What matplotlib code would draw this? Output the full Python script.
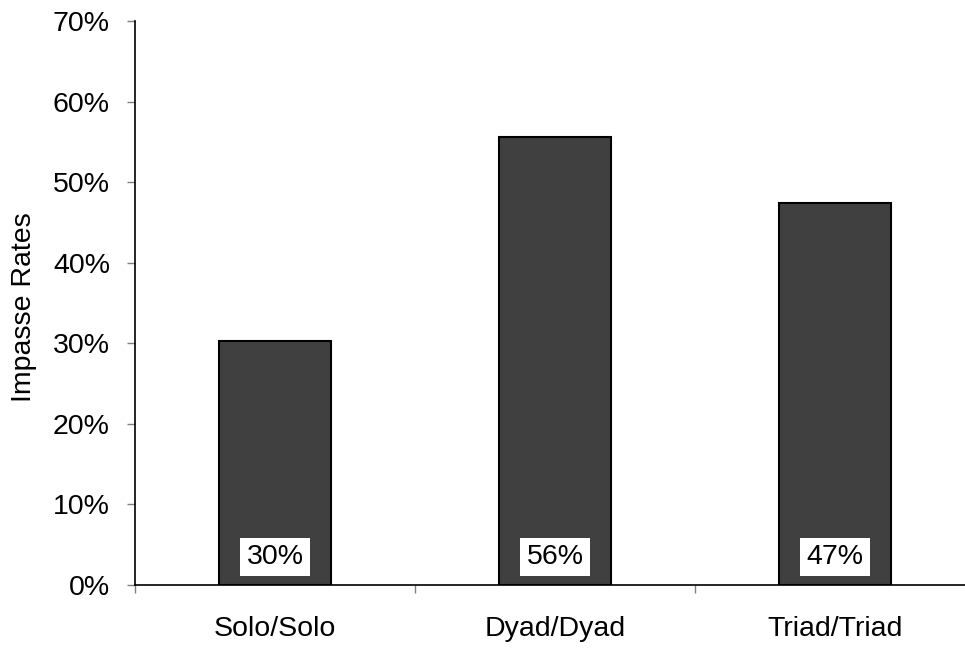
import matplotlib.pyplot as plt

plt.rcParams['font.family'] = ['Liberation Sans', 'DejaVu Sans']

# Impasse rates by group composition
groups = ['Solo/Solo', 'Dyad/Dyad', 'Triad/Triad']
rates = [30.3, 55.6, 47.4]
labels = ['30%', '56%', '47%']
yticks = [0, 10, 20, 30, 40, 50, 60, 70]

fig = plt.figure(figsize=(9.65, 6.5), dpi=100)
ax = fig.add_axes([135 / 965, 65 / 650, 840 / 965, 564 / 650])

x = range(len(groups))
ax.bar(x, rates, width=0.4, color='#404040', edgecolor='black', linewidth=1.5, zorder=2)

# value boxes at the bottom of each bar
for i, lab in enumerate(labels):
    ax.text(i, 3.5, lab, ha='center', va='center', fontsize=20.5, zorder=3,
            bbox=dict(facecolor='white', edgecolor='none', pad=4.5))

ax.set_xlim(-0.5, 2.5)
ax.set_ylim(0, 70)
ax.set_yticks(yticks)
ax.set_yticklabels([f'{t}%' for t in yticks], fontsize=20.5)
ax.set_xticks([-0.5, 0.5, 1.5, 2.5])
ax.set_xticklabels([])
ax.set_xticks(list(x), minor=True)
ax.set_xticklabels(groups, minor=True, fontsize=20.5)
ax.tick_params(axis='x', which='minor', length=0, pad=22)
ax.tick_params(axis='both', which='major', direction='out', length=6, color='#808080', width=1)
ax.tick_params(axis='y', pad=12)

ax.spines['top'].set_visible(False)
ax.spines['right'].set_visible(False)
for s in ['left', 'bottom']:
    ax.spines[s].set_linewidth(1.2)

ax.set_ylabel('Impasse Rates', fontsize=20.5)
ax.yaxis.set_label_coords(-0.117, 0.493)

fig.savefig('out.png', dpi=100)
